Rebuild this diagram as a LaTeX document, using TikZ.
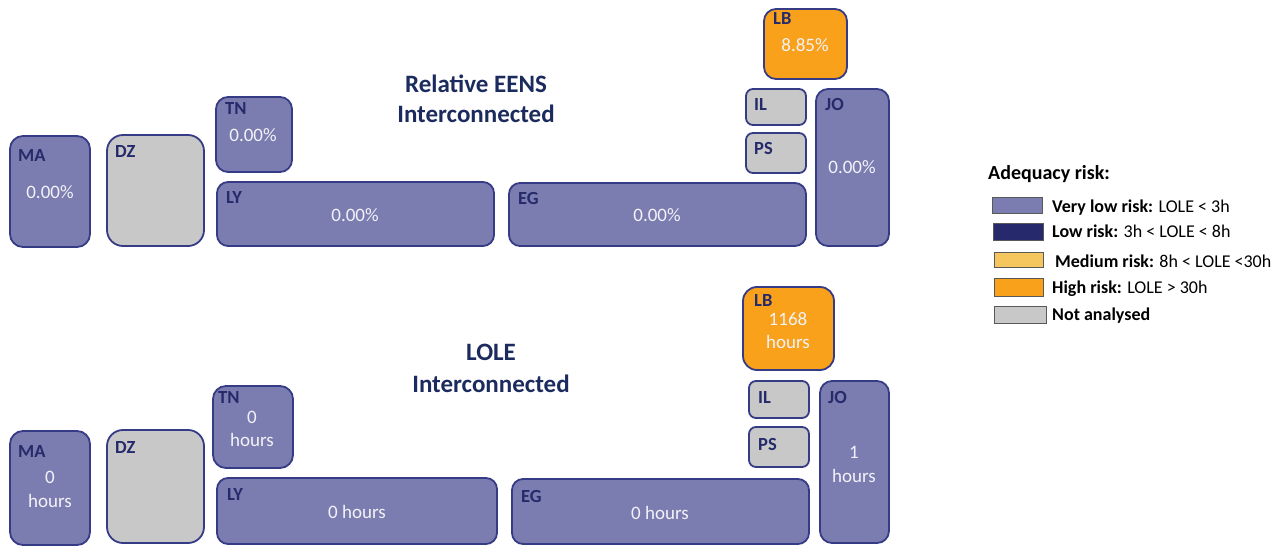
\documentclass[tikz,border=0pt]{standalone}
\usepackage{fontspec}
\setmainfont{Carlito}
\usetikzlibrary{fit}

\definecolor{vlow}{HTML}{7B7DB1}
\definecolor{lowc}{HTML}{262A6C}
\definecolor{medc}{HTML}{F5C65E}
\definecolor{highc}{HTML}{F9A11B}
\definecolor{nac}{HTML}{C8C8C8}
\definecolor{edge}{HTML}{363B85}
\definecolor{navy}{HTML}{252A6A}
\definecolor{titlenavy}{HTML}{1C2B5E}
\definecolor{valtext}{HTML}{F2F2F7}

\tikzset{
  area/.style={draw=edge, line width=1.8pt, rounded corners=10pt, inner sep=0pt, outer sep=0pt},
  vlowbox/.style={area, fill=vlow},
  greybox/.style={area, fill=nac},
  highbox/.style={area, fill=highc},
  r/.style={rounded corners=#1pt},
  code/.style={font=\fontsize{18.5}{20}\selectfont\bfseries, text=navy, anchor=base west, inner sep=0pt},
  val/.style={font=\fontsize{19}{20}\selectfont, text=valtext, anchor=base, inner sep=0pt},
  heading/.style={font=\fontsize{25}{28}\selectfont\bfseries, text=titlenavy, anchor=base, inner sep=0pt},
  legtitle/.style={font=\fontsize{20}{22}\selectfont\bfseries, text=black, anchor=base west, inner sep=0pt},
  legtext/.style={font=\fontsize{18}{20}\selectfont, text=black, anchor=base west, inner sep=0pt},
  swatch/.style={draw=gray!70!black, line width=0.8pt, inner sep=0pt, outer sep=0pt},
}

\begin{document}
\begin{tikzpicture}[x=1pt, y=-1pt]
  \useasboundingbox (0,0) rectangle (1280,548);

  % ---------------- Relative EENS ----------------
  \node[heading] (t1a) at (476,93) {Relative EENS};
  \node[heading] (t1b) at (476,123) {Interconnected};

  \node[vlowbox, r=13, fit={(10,136) (90,247)}] (ma1) {};
  \node[code] (ma1c) at (18,162) {MA};
  \node[val] (ma1v) at (50,199) {0.00\%};

  \node[greybox, r=16, fit={(107,135) (204,246)}] (dz1) {};
  \node[code] (dz1c) at (115,158) {DZ};

  \node[vlowbox, r=12, fit={(216,97) (292,172)}] (tn1) {};
  \node[code] (tn1c) at (225,115) {TN};
  \node[val] (tn1v) at (253,142) {0.00\%};

  \node[vlowbox, r=11, fit={(217,182) (494,246)}] (ly1) {};
  \node[code] (ly1c) at (226,204) {LY};
  \node[val] (ly1v) at (355,222) {0.00\%};

  \node[vlowbox, r=11, fit={(509,183) (806,246)}] (eg1) {};
  \node[code] (eg1c) at (518,205) {EG};
  \node[val] (eg1v) at (657,222) {0.00\%};

  \node[greybox, r=7, fit={(746,89) (806,125)}] (il1) {};
  \node[code] (il1c) at (754,111) {IL};

  \node[greybox, r=7, fit={(746,133) (806,173)}] (ps1) {};
  \node[code] (ps1c) at (754,155) {PS};

  \node[vlowbox, r=12, fit={(816,89) (889,246)}] (jo1) {};
  \node[code] (jo1c) at (825,111) {JO};
  \node[val] (jo1v) at (852,174) {0.00\%};

  \node[highbox, r=12, fit={(764,9) (847,79)}] (lb1) {};
  \node[code] (lb1c) at (773,25) {LB};
  \node[val] (lb1v) at (805,52) {8.85\%};

  % ---------------- LOLE ----------------
  \node[heading] (t2a) at (491,360) {LOLE};
  \node[heading] (t2b) at (491,392) {Interconnected};

  \node[vlowbox, r=13, fit={(10,431) (90,545)}] (ma2) {};
  \node[code] (ma2c) at (18,457) {MA};
  \node[val] (ma2v) at (50,483) {0};
  \node[val] (ma2h) at (50,507) {hours};

  \node[greybox, r=16, fit={(107,430) (204,543)}] (dz2) {};
  \node[code] (dz2c) at (115,453) {DZ};

  \node[vlowbox, r=13, fit={(213,386) (293,468)}] (tn2) {};
  \node[code] (tn2c) at (218,403) {TN};
  \node[val] (tn2v) at (252,423) {0};
  \node[val] (tn2h) at (252,446) {hours};

  \node[vlowbox, r=11, fit={(217,478) (497,544)}] (ly2) {};
  \node[code] (ly2c) at (227,500) {LY};
  \node[val] (ly2v) at (357,518) {0 hours};

  \node[vlowbox, r=11, fit={(512,479) (809,544)}] (eg2) {};
  \node[code] (eg2c) at (521,502) {EG};
  \node[val] (eg2v) at (660,519) {0 hours};

  \node[greybox, r=7, fit={(749,381) (809,418)}] (il2) {};
  \node[code] (il2c) at (758,403) {IL};

  \node[greybox, r=7, fit={(749,427) (809,467)}] (ps2) {};
  \node[code] (ps2c) at (758,450) {PS};

  \node[vlowbox, r=12, fit={(820,381) (889,543)}] (jo2) {};
  \node[code] (jo2c) at (828,403) {JO};
  \node[val] (jo2v) at (854,458) {1};
  \node[val] (jo2h) at (854,482) {hours};

  \node[highbox, r=14, fit={(743,287) (834,370)}] (lb2) {};
  \node[code] (lb2c) at (754,306) {LB};
  \node[val] (lb2v) at (788,325) {1168};
  \node[val] (lb2h) at (788,348) {hours};

  % ---------------- Legend ----------------
  \node[legtitle] (legt) at (988,180) {Adequacy risk:};

  \node[swatch, fill=vlow,  fit={(992,197) (1042,213)}] (sw1) {};
  \node[swatch, fill=lowc,  fit={(993,223) (1043,240)}] (sw2) {};
  \node[swatch, fill=medc,  fit={(994,252) (1043,267)}] (sw3) {};
  \node[swatch, fill=highc, fit={(994,278) (1043,296)}] (sw4) {};
  \node[swatch, fill=nac,   fit={(994,306) (1046,323)}] (sw5) {};

  \node[legtext] (lg1) at (1052,213) {\textbf{Very low risk:} LOLE < 3h};
  \node[legtext] (lg2) at (1052,238) {\textbf{Low risk:} 3h < LOLE < 8h};
  \node[legtext] (lg3) at (1055,268) {\textbf{Medium risk:} 8h < LOLE <30h};
  \node[legtext] (lg4) at (1052,294) {\textbf{High risk:} LOLE > 30h};
  \node[legtext] (lg5) at (1052,320) {\textbf{Not analysed}};
\end{tikzpicture}
\end{document}
